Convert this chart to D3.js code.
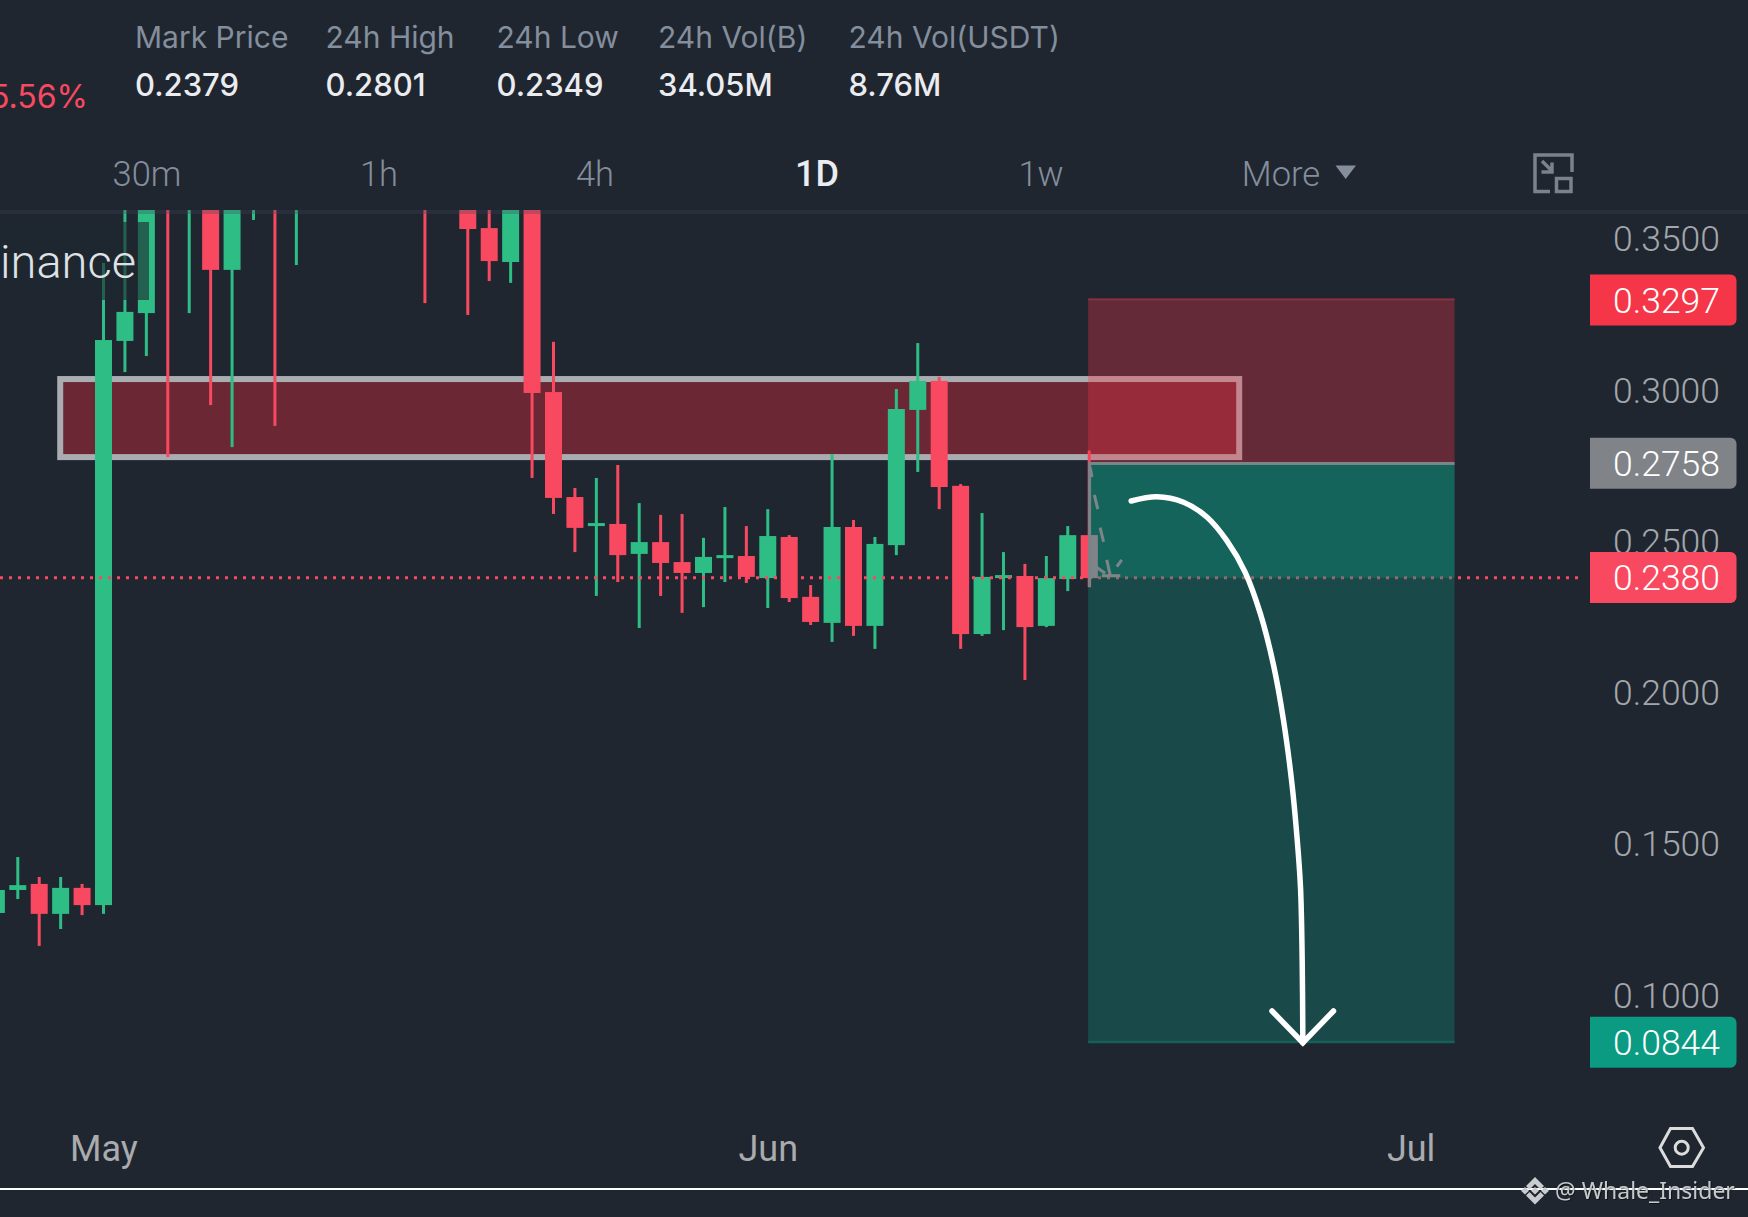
<!DOCTYPE html>
<html>
<head>
<meta charset="utf-8">
<script src="https://cdn.jsdelivr.net/npm/d3@7"></script>
<style>
html,body{margin:0;padding:0;background:#1f2630;overflow:hidden}
svg{display:block}
</style>
</head>
<body>
<svg id="c" width="1748" height="1217"></svg>
<script>
// ---- data ----
const days   = [-5,-4,-3,-2,-1,0,1,2,3,4,5,6,7,8,9,10,11,12,13,14,15,16,17,18,19,20,21,22,23,24,25,26,27,28,29,30,31,32,33,34,35,36,37,38,39,40,41,42,43,44,45,46];
const opens  = [.1272,.1348,.1368,.1269,.1355,.1298,.3163,.3255,.3900,.3600,.3700,.3398,.3600,.3800,.3650,.3800,.3900,.3750,.3850,.3950,.3900,.3800,.3700,.3536,.3424,.3700,.2994,.2647,.2551,.2558,.2459,.2498,.2432,.2396,.2445,.2452,.2379,.2515,.2317,.2231,.2548,.2221,.2488,.2935,.3031,.2684,.2194,.2379,.2386,.2221,.2376,.2521];
const highs  = [.1348,.1457,.1391,.1391,.1368,.3421,.3600,.3700,.4000,.4000,.3800,.3800,.3800,.3900,.3900,.4000,.4100,.3950,.4050,.4100,.4000,.3900,.3800,.3700,.3750,.3750,.3160,.2677,.2710,.2753,.2627,.2588,.2591,.2512,.2614,.2551,.2607,.2521,.2356,.2789,.2571,.2515,.3004,.3156,.3044,.2690,.2594,.2465,.2426,.2452,.2551,.2801];
const lows   = [.1272,.1318,.1163,.1219,.1265,.1269,.3060,.3113,.2779,.3255,.2951,.2812,.3563,.2882,.3414,.3600,.3700,.3650,.3700,.3750,.3288,.3600,.3249,.3361,.3355,.2710,.2591,.2465,.2320,.2366,.2214,.2320,.2264,.2283,.2366,.2363,.2280,.2300,.2224,.2168,.2188,.2145,.2455,.2730,.2607,.2145,.2188,.2207,.2042,.2217,.2336,.2349];
const closes = [.1348,.1364,.1269,.1355,.1298,.3166,.3259,.3650,.3620,.3900,.3398,.3700,.3700,.3600,.3800,.3900,.3800,.3850,.3950,.3900,.3650,.3700,.3533,.3427,.3650,.2991,.2644,.2545,.2561,.2455,.2498,.2429,.2396,.2449,.2455,.2383,.2518,.2313,.2234,.2548,.2221,.2492,.2938,.3031,.2680,.2194,.2383,.2389,.2217,.2379,.2521,.2379];

const priceTicks = [.35,.30,.25,.20,.15,.10];
const monthDays = [0,31,61];
const monthLabels = ['May','Jun','Jul'];

const statHeads = ['Mark Price','24h High','24h Low','24h Vol(B)','24h Vol(USDT)'];
const statValues = ['0.2379','0.2801','0.2349','34.05M','8.76M'];
const tabs = ['30m','1h','4h','1D','1w','More'];

const stopPrice = .3297, entryPrice = .2758, markPrice = .2380, targetPrice = .0844;
const bandPrices = [.3037,.2779], bandDays = [-2.02,53.0];
const positionDays = [45.95,63.05];

const arrowDays   = [47.96,49.16,50.40,51.49,52.43,53.28,53.98,54.60,55.07,55.46,55.69,55.86,55.94,55.97];
const arrowPrices = [.2634,.2648,.2630,.2581,.2502,.2398,.2263,.2092,.1908,.1700,.1529,.1358,.1113,.0843];
const headDays    = [54.53,55.97,57.40];
const headPrices  = [.0948,.0843,.0948];

const sketchDashes = [
 [46.04,.2746,46.13,.2713],[46.24,.2654,46.40,.2607],[46.51,.2546,46.67,.2499],
 [46.82,.2439,46.98,.2389],[46.20,.2422,46.74,.2395],[47.52,.2439,47.29,.2417],[46.59,.2387,47.45,.2387]
];

// ---- palette ----
const UP='#2ebd85', DOWN='#f84960', BG='#1f2630', MUTED='#848e9c', AXIS='#a3a7ab';

// ---- scales ----
const x = d3.scaleLinear().domain([0,46]).range([103.5,1089.2]);
const y = d3.scaleLinear().domain([.35,.10]).range([239,995.25]);

const svg = d3.select('#c');
svg.append('rect').attr('width',1748).attr('height',1217).attr('fill',BG);
svg.append('defs').append('clipPath').attr('id','plot').append('rect')
   .attr('x',0).attr('y',210).attr('width',1590).attr('height',900);

const plot = svg.append('g').attr('clip-path','url(#plot)');

// resistance band
plot.append('rect')
  .attr('x',x(bandDays[0])).attr('y',y(bandPrices[0]))
  .attr('width',x(bandDays[1])-x(bandDays[0])).attr('height',y(bandPrices[1])-y(bandPrices[0]))
  .attr('fill','#6b2733').attr('stroke','#a9adb2').attr('stroke-width',6);

// candles
const candles = days.map((d,i)=>({d,o:opens[i],h:highs[i],l:lows[i],c:closes[i]}));
const g = plot.append('g').selectAll('g').data(candles).join('g')
  .attr('fill',d=>d.c>=d.o?UP:DOWN);
g.append('rect').attr('x',d=>x(d.d)-1.5).attr('width',3)
  .attr('y',d=>y(d.h)).attr('height',d=>y(d.l)-y(d.h));
g.append('rect').attr('x',d=>x(d.d)-8.5).attr('width',17)
  .attr('y',d=>y(Math.max(d.o,d.c))).attr('height',d=>Math.max(1,y(Math.min(d.o,d.c))-y(Math.max(d.o,d.c))));

// watermark label box
plot.append('rect').attr('x',-2).attr('y',222).attr('width',151).attr('height',78)
  .attr('fill',BG).attr('opacity',.62);
plot.append('text').attr('x',136).attr('y',278).attr('text-anchor','end')
  .attr('font-family','Roboto').attr('font-weight',300).attr('font-size',47)
  .attr('fill','#dfe1e4').text('inance');

// mark price line
svg.append('line').attr('x1',0).attr('x2',1584).attr('y1',y(markPrice)).attr('y2',y(markPrice))
  .attr('stroke',DOWN).attr('stroke-width',3).attr('stroke-dasharray','3 6');

// position tool
const px0=x(positionDays[0]), px1=x(positionDays[1]);
svg.append('rect').attr('x',px0).attr('width',px1-px0).attr('y',y(stopPrice)-2)
  .attr('height',y(entryPrice)-y(stopPrice)+2).attr('fill','rgb(250,54,73)').attr('opacity',.32);
svg.append('rect').attr('x',px0).attr('width',px1-px0).attr('y',y(stopPrice)-2).attr('height',2)
  .attr('fill',DOWN).attr('opacity',.25);
svg.append('rect').attr('x',px0).attr('width',px1-px0).attr('y',y(entryPrice))
  .attr('height',y(targetPrice)-y(entryPrice)+.8).attr('fill','rgb(14,153,129)').attr('opacity',.31);
svg.append('rect').attr('x',px0).attr('width',px1-px0).attr('y',y(entryPrice))
  .attr('height',y(markPrice)-y(entryPrice)).attr('fill','rgb(14,153,129)').attr('opacity',.34);
svg.append('rect').attr('x',px0).attr('width',px1-px0).attr('y',y(targetPrice)-1.7).attr('height',2.5)
  .attr('fill','rgb(14,153,129)').attr('opacity',.3);

// entry lines and sketch
const GREY='#7f8489';
svg.append('rect').attr('x',px0).attr('width',px1-px0).attr('y',y(entryPrice)-1.5).attr('height',3)
  .attr('fill',GREY);
svg.append('rect').attr('x',px0).attr('width',3).attr('y',y(entryPrice)).attr('height',y(.2349)-y(entryPrice))
  .attr('fill',GREY).attr('opacity',.9);
svg.append('rect').attr('x',px0+3).attr('width',x(46)+8.5-px0-3).attr('y',y(opens[51])).attr('height',y(closes[51])-y(opens[51]))
  .attr('fill',GREY);
svg.append('g').selectAll('line').data(sketchDashes).join('line')
  .attr('x1',d=>x(d[0])).attr('y1',d=>y(d[1])).attr('x2',d=>x(d[2])).attr('y2',d=>y(d[3]))
  .attr('stroke',GREY).attr('stroke-width',3);

// white arrow
const ln = d3.line().x(d=>x(d[0])).y(d=>y(d[1]));
svg.append('path').attr('d',ln.curve(d3.curveCatmullRom)(d3.zip(arrowDays,arrowPrices)))
  .attr('fill','none').attr('stroke','#fff').attr('stroke-width',5.5).attr('stroke-linecap','round');
svg.append('path').attr('d',ln.curve(d3.curveLinear)(d3.zip(headDays,headPrices)))
  .attr('fill','none').attr('stroke','#fff').attr('stroke-width',5.5).attr('stroke-linecap','round').attr('stroke-linejoin','miter');

// header divider
svg.append('rect').attr('x',0).attr('y',210).attr('width',1748).attr('height',4)
  .attr('fill','rgb(63,70,85)').attr('opacity',.3);

// price axis
const yAxis = svg.append('g').attr('transform','translate(1720,0.6)')
  .call(d3.axisLeft(y).tickValues(priceTicks).tickSize(0).tickPadding(0).tickFormat(d3.format('.4f')));
yAxis.select('.domain').remove();
yAxis.selectAll('text').attr('font-family','Roboto').attr('font-weight',300).attr('font-size',35.5).attr('fill',AXIS);

// price flags
const flags = [[stopPrice,'#f53648'],[entryPrice,'#808488'],[markPrice,'#f84960'],[targetPrice,'#0b9b82']];
const flag = svg.append('g').selectAll('g').data(flags).join('g')
  .attr('transform',d=>`translate(1590,${y(d[0])-0.3})`);
flag.append('path').attr('fill',d=>d[1])
  .attr('d','M0,-25.5H140.5a6,6 0 0 1 6,6V19.5a6,6 0 0 1 -6,6H0Z');
flag.append('text').attr('x',130).attr('dy','0.355em').attr('text-anchor','end')
  .attr('font-family','Roboto').attr('font-weight',300).attr('font-size',35.5).attr('fill','#fff')
  .text(d=>d3.format('.4f')(d[0]));

// time axis
const xAxis = svg.append('g').attr('transform','translate(0,1135)')
  .call(d3.axisBottom(x).tickValues(monthDays).tickSize(0).tickPadding(0).tickFormat((d,i)=>monthLabels[i]));
xAxis.select('.domain').remove();
xAxis.selectAll('text').attr('font-family','Roboto').attr('font-weight',400).attr('font-size',36)
  .attr('fill','#a9abae').attr('dy','0.71em').attr('y',0);

// stats header
const statX = [135,325.5,496.5,658,848.5];
svg.append('g').selectAll('text').data(statHeads).join('text')
  .attr('x',(d,i)=>statX[i]).attr('y',48).attr('font-family','Inter').attr('font-size',30)
  .attr('fill',MUTED).text(d=>d);
svg.append('g').selectAll('text').data(statValues).join('text')
  .attr('x',(d,i)=>statX[i]).attr('y',96).attr('font-family','Inter').attr('font-weight',500).attr('font-size',31)
  .attr('fill','#eaecef').text(d=>d);
svg.append('text').attr('x',88).attr('y',108).attr('text-anchor','end').attr('font-family','Inter')
  .attr('font-size',32).attr('fill',DOWN).text('5.56%');

// timeframe tabs
const tabX = [147,379,595,817,1041,1281];
svg.append('g').selectAll('text').data(tabs).join('text')
  .attr('x',(d,i)=>tabX[i]).attr('y',186).attr('text-anchor','middle')
  .attr('font-family','Roboto').attr('font-size',d=>d==='1D'?36:34.5)
  .attr('font-weight',d=>d==='1D'?500:300)
  .attr('fill',d=>d==='1D'?'#eaecef':MUTED).text(d=>d);
svg.append('path').attr('d','M1335.5,165.5H1356L1345.7,179Z').attr('fill',MUTED);

// layout icon
svg.append('path').attr('fill','none').attr('stroke','#7a828c').attr('stroke-width',3.5)
  .attr('d','M1572,172V155H1535V191.5H1550M1556.5,178.5H1571V191.5H1556.5ZM1542,161L1552,171M1552,162.5V172H1541.5');

// settings icon
svg.append('path').attr('fill','none').attr('stroke','#dcdcdc').attr('stroke-width',3)
  .attr('d','M1660,1147.7L1670.5,1128.5H1692.5L1703.5,1147.7L1692.5,1166.5H1670.5Z');
svg.append('circle').attr('cx',1681.7).attr('cy',1147.7).attr('r',6.5)
  .attr('fill','none').attr('stroke','#dcdcdc').attr('stroke-width',3);

// bottom rule and watermark
svg.append('rect').attr('x',0).attr('y',1188).attr('width',1748).attr('height',2).attr('fill','#fff');
svg.append('path').attr('fill','#c9cbce')
  .attr('d','M1535,1177L1544,1186L1540.5,1189.5L1535,1184L1529.5,1189.5L1526,1186Z'
    +'M1535,1204.5L1526,1195.5L1529.5,1192L1535,1197.5L1540.5,1192L1544,1195.5Z'
    +'M1535,1187L1539,1190.7L1535,1194.5L1531,1190.7Z'
    +'M1525,1187L1529,1190.7L1525,1194.5L1521,1190.7Z'
    +'M1545,1187L1549,1190.7L1545,1194.5L1541,1190.7Z');
svg.append('text').attr('x',1555).attr('y',1199).attr('font-family','Noto Sans').attr('font-size',23)
  .attr('fill','#c5c8cb')
  .style('filter','drop-shadow(1px 1px 0 rgba(0,0,0,.45))').text('@ Whale_Insider');
</script>
</body>
</html>
